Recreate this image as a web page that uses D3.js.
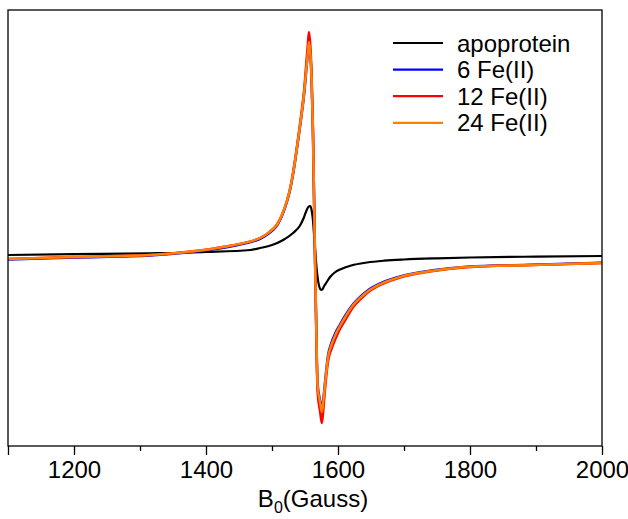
<!DOCTYPE html>
<html>
<head>
<meta charset="utf-8">
<title>EPR</title>
<style>
body { margin: 0; background: #fff; }
text { font-family: "Liberation Sans", Arial, sans-serif; }
</style>
</head>
<body>
<script src="https://d3js.org/d3.v7.min.js"></script>
<script>
// pole magnetyczne (Gauss) i sygnal EPR (jednostki umowne)
var apoField = [1100, 1200, 1315, 1400, 1467, 1482, 1500, 1517, 1532, 1542, 1548, 1552, 1555, 1558, 1560, 1562, 1565, 1568, 1571, 1573, 1575.5, 1579, 1583, 1588, 1595, 1605, 1620, 1644, 1670, 1700, 1750, 1800, 1900, 2000];
var apoSignal = [0, 0.008, 0.017, 0.03, 0.05, 0.07, 0.1, 0.15, 0.22, 0.29, 0.37, 0.44, 0.48, 0.49, 0.45, 0.35, 0.08, -0.16, -0.3, -0.34, -0.35, -0.31, -0.27, -0.22, -0.175, -0.14, -0.105, -0.075, -0.057, -0.045, -0.033, -0.025, -0.016, -0.01];

var feField = [1100, 1200, 1315, 1391, 1441, 1460, 1482, 1495, 1508, 1515, 1523, 1528, 1532, 1539, 1545, 1549, 1552, 1554, 1556, 1558, 1560, 1562, 1564, 1567, 1569, 1573, 1575.5, 1578, 1580.5, 1585, 1590, 1596, 1603, 1611, 1623, 1635, 1648, 1668, 1694, 1744, 1795, 1895, 2000];
var fe6 = [-0.045, -0.025, -0.005, 0.04, 0.09, 0.117, 0.162, 0.215, 0.30, 0.39, 0.54, 0.67, 0.81, 1.12, 1.41, 1.63, 1.85, 2.0, 2.14, 2.02, 1.74, 1.24, 0.44, -0.7, -1.28, -1.46, -1.54, -1.43, -1.26, -1.0, -0.88, -0.78, -0.695, -0.605, -0.49, -0.41, -0.34, -0.272, -0.215, -0.152, -0.117, -0.097, -0.078];
var fe12 = [-0.04, -0.02, 0, 0.045, 0.097, 0.124, 0.17, 0.224, 0.31, 0.40, 0.55, 0.68, 0.83, 1.14, 1.44, 1.67, 1.92, 2.08, 2.23, 2.1, 1.8, 1.28, 0.45, -0.75, -1.36, -1.57, -1.68, -1.53, -1.33, -1.06, -0.94, -0.84, -0.74, -0.65, -0.52, -0.435, -0.36, -0.288, -0.226, -0.16, -0.122, -0.10, -0.08];
var fe24 = [-0.04, -0.02, 0, 0.045, 0.097, 0.124, 0.17, 0.224, 0.31, 0.40, 0.55, 0.68, 0.82, 1.13, 1.42, 1.64, 1.86, 2.0, 2.13, 2.02, 1.75, 1.25, 0.45, -0.7, -1.3, -1.48, -1.57, -1.45, -1.28, -1.02, -0.9, -0.8, -0.71, -0.62, -0.5, -0.42, -0.35, -0.28, -0.22, -0.157, -0.12, -0.10, -0.08];

var seriesNames = ['apoprotein', '6 Fe(II)', '12 Fe(II)', '24 Fe(II)'];
var seriesColors = ['#000000', '#0000ff', '#ff0000', '#ff8000'];
var majorTicks = [1100, 1200, 1400, 1600, 1800, 2000];
var minorTicks = [1300, 1500, 1700, 1900];

var width = 628, height = 519;
var mLeft = 8, mRight = 602, mTop = 10, mBottom = 446;

var svg = d3.select('body').append('svg')
  .attr('width', width)
  .attr('height', height);

var x = d3.scaleLinear().domain([1100, 2000]).range([mLeft, mRight]);
var y = d3.scaleLinear().domain([-1.91, 2.45]).range([mBottom, mTop]);

var series = [
  {name: seriesNames[0], color: seriesColors[0], xs: apoField, ys: apoSignal, w: 2.2},
  {name: seriesNames[1], color: seriesColors[1], xs: feField, ys: fe6, w: 2.5},
  {name: seriesNames[2], color: seriesColors[2], xs: feField, ys: fe12, w: 2.5},
  {name: seriesNames[3], color: seriesColors[3], xs: feField, ys: fe24, w: 2.5}
];

var line = d3.line()
  .x(function(d) { return x(d[0]); })
  .y(function(d) { return y(d[1]); })
  .curve(d3.curveMonotoneX);

svg.append('g')
  .selectAll('path')
  .data(series)
  .enter()
  .append('path')
  .attr('d', function(s) { return line(s.xs.map(function(v, i) { return [v, s.ys[i]]; })); })
  .attr('fill', 'none')
  .attr('stroke', function(s) { return s.color; })
  .attr('stroke-width', function(s) { return s.w; })
  .attr('stroke-linejoin', 'round');

// ramka
svg.append('rect')
  .attr('x', mLeft).attr('y', mTop)
  .attr('width', mRight - mLeft).attr('height', mBottom - mTop)
  .attr('fill', 'none').attr('stroke', '#000').attr('stroke-width', 1.3);

// os X
var axisMajor = d3.axisBottom(x)
  .tickValues(majorTicks)
  .tickSize(9)
  .tickPadding(6)
  .tickFormat(function(d) { return d === 1100 ? '' : d; });
var gx = svg.append('g').attr('transform', 'translate(0,' + mBottom + ')').call(axisMajor);
gx.select('.domain').remove();
gx.selectAll('line').attr('stroke-width', 1.3);
gx.selectAll('text').attr('font-size', 24).attr('fill', '#000')
  .style('font-family', '"Liberation Sans", Arial, sans-serif');

var axisMinor = d3.axisBottom(x).tickValues(minorTicks).tickSize(5).tickFormat('');
var gm = svg.append('g').attr('transform', 'translate(0,' + mBottom + ')').call(axisMinor);
gm.select('.domain').remove();
gm.selectAll('line').attr('stroke-width', 1.3);

// tytul osi
var title = svg.append('text')
  .attr('x', (mLeft + mRight) / 2 + 8)
  .attr('y', 507)
  .attr('text-anchor', 'middle')
  .attr('font-size', 24)
  .attr('fill', '#000');
title.append('tspan').text('B');
title.append('tspan').attr('font-size', 16).attr('dy', 6).text('0');
title.append('tspan').attr('dy', -6).text('(Gauss)');

// legenda
var legend = svg.append('g');
series.forEach(function(s, i) {
  var ly = 43 + i * 26.6;
  legend.append('line')
    .attr('x1', 393).attr('x2', 443)
    .attr('y1', ly).attr('y2', ly)
    .attr('stroke', s.color).attr('stroke-width', 2.2);
  legend.append('text')
    .attr('x', 457).attr('y', ly)
    .attr('dy', '0.36em')
    .attr('font-size', 24)
    .attr('fill', '#000')
    .text(s.name);
});
</script>
</body>
</html>
